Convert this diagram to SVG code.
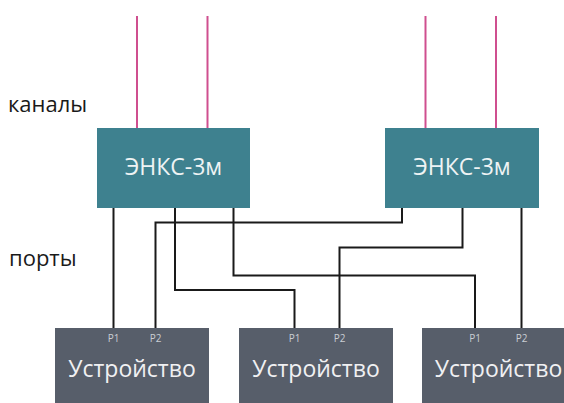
<svg xmlns="http://www.w3.org/2000/svg" width="564" height="403" viewBox="0 0 564 403">
<style>
.ch{stroke:#cf4f8f;stroke-width:2;fill:none}
.wire{stroke:#1a1a1a;stroke-width:2;fill:none}
.enks{fill:#3e818f}
.dev{fill:#575e6a}
.lbl{font-family:"Open Sans","Liberation Sans",sans-serif;font-size:22px;fill:#1a1a1a}
.t1{font-family:"Open Sans","Liberation Sans",sans-serif;font-size:23px;fill:#eef3f4;text-anchor:middle}
.t2{font-family:"Open Sans","Liberation Sans",sans-serif;font-size:23px;fill:#f0f0f2;text-anchor:middle}
.p{font-family:"Open Sans","Liberation Sans",sans-serif;font-size:10px;fill:#c9cdd3;text-anchor:middle}
</style>
<rect width="564" height="403" fill="#ffffff"/>
<text class="lbl" x="8" y="111.5">каналы</text>
<text class="lbl" x="9" y="266">порты</text>
<g id="channels">
<line class="ch" x1="137" y1="16" x2="137" y2="128"/>
<line class="ch" x1="207.5" y1="16" x2="207.5" y2="128"/>
<line class="ch" x1="425.5" y1="16" x2="425.5" y2="128"/>
<line class="ch" x1="496" y1="16" x2="496" y2="128"/>
</g>
<g id="connectors">
<polyline class="wire" points="113.5,208 113.5,328"/>
<polyline class="wire" points="155.5,328 155.5,222.5 402,222.5 402,208"/>
<polyline class="wire" points="175,208 175,290 294.5,290 294.5,328"/>
<polyline class="wire" points="233.5,208 233.5,275.5 475,275.5 475,328"/>
<polyline class="wire" points="462.5,208 462.5,247.5 339.5,247.5 339.5,328"/>
<polyline class="wire" points="521.5,208 521.5,328"/>
</g>
<g id="enks1">
<rect class="enks" x="97" y="128" width="153" height="80"/>
<text class="t1" x="173.5" y="175">ЭНКС-3м</text>
</g>
<g id="enks2">
<rect class="enks" x="385" y="128" width="154" height="80"/>
<text class="t1" x="462" y="175">ЭНКС-3м</text>
</g>
<g id="dev1">
<rect class="dev" x="55" y="328" width="154" height="80"/>
<text class="p" x="113.5" y="342">P1</text>
<text class="p" x="155.5" y="342">P2</text>
<text class="t2" x="132" y="376.5">Устройство</text>
</g>
<g id="dev2">
<rect class="dev" x="239" y="328" width="154" height="80"/>
<text class="p" x="294.5" y="342">P1</text>
<text class="p" x="339.5" y="342">P2</text>
<text class="t2" x="316" y="376.5">Устройство</text>
</g>
<g id="dev3">
<rect class="dev" x="422" y="328" width="154" height="80"/>
<text class="p" x="475" y="342">P1</text>
<text class="p" x="521.5" y="342">P2</text>
<text class="t2" x="498.5" y="376.5">Устройство</text>
</g>
</svg>
